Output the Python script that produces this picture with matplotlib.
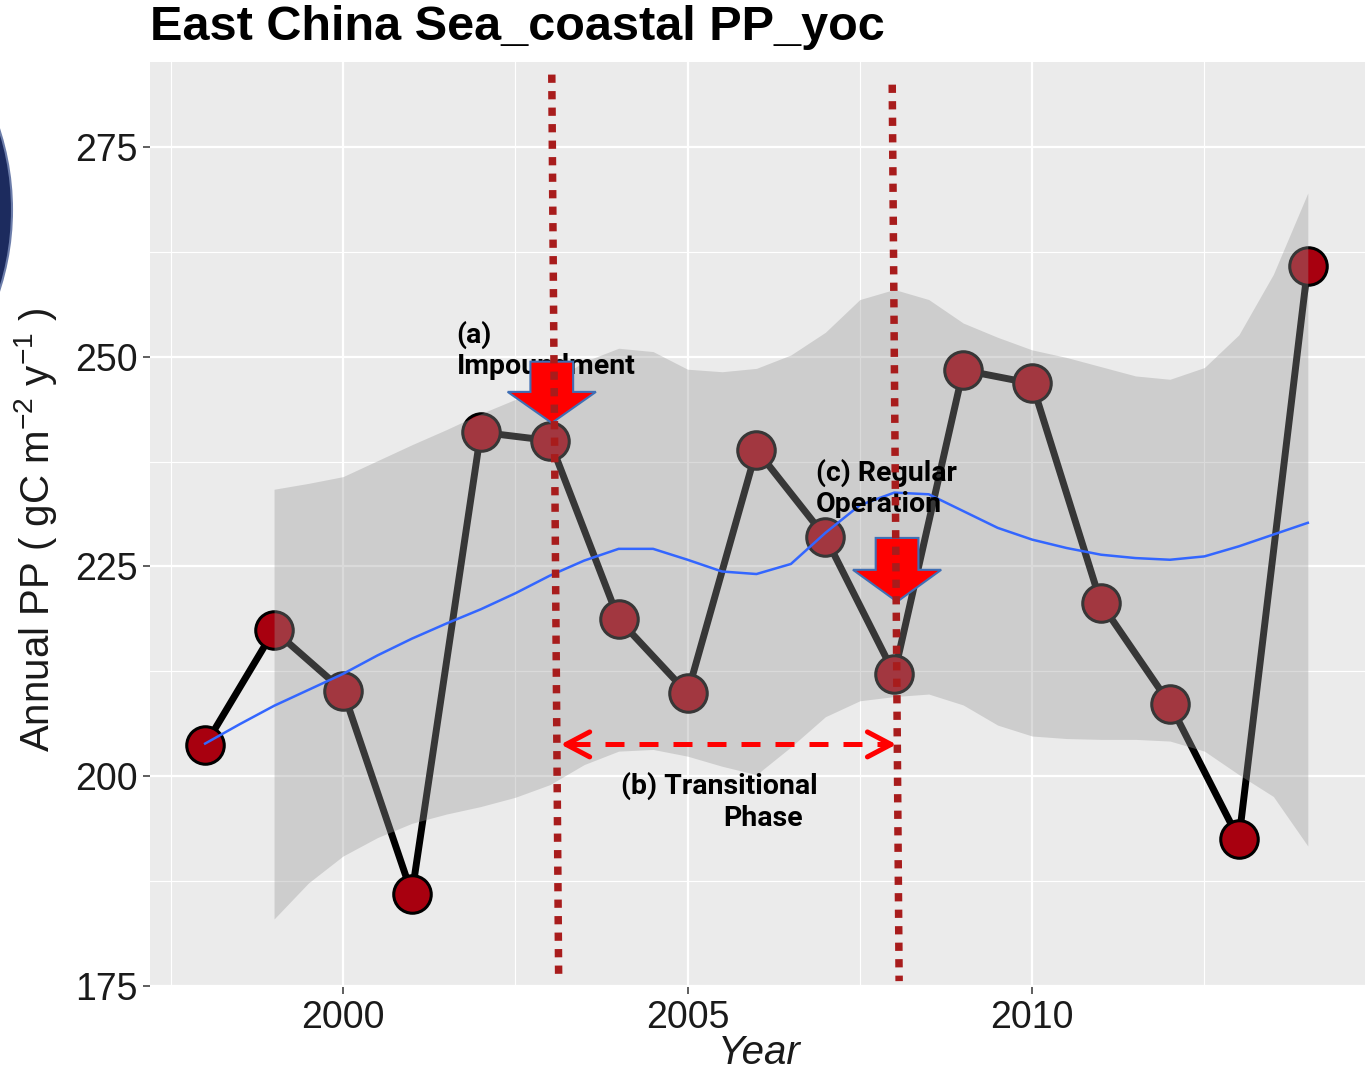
import numpy as np
import matplotlib.pyplot as plt
from matplotlib.patches import Polygon, Ellipse

plt.rcParams['font.family'] = ['Liberation Sans', 'DejaVu Sans']
plt.rcParams['mathtext.fontset'] = 'custom'
plt.rcParams['mathtext.rm'] = 'Liberation Sans'
plt.rcParams['mathtext.it'] = 'Liberation Sans:italic'

# annual primary production, East China Sea coastal box
years = [1998, 1999, 2000, 2001, 2002, 2003, 2004, 2005, 2006,
         2007, 2008, 2009, 2010, 2011, 2012, 2013, 2014]
pp = [203.7, 217.4, 210.2, 186.0, 241.0, 240.0, 218.7, 209.9, 238.9,
      228.5, 212.2, 248.4, 246.8, 220.6, 208.6, 192.5, 260.8]

# loess trend, read every half year
fit_years = np.arange(1998, 2014.01, 0.5)
fit = [203.9, 206.2, 208.4, 210.3, 212.2, 214.4, 216.4, 218.2, 219.9,
       221.8, 223.9, 225.7, 227.1, 227.1, 225.8, 224.4, 224.1, 225.3,
       229.0, 232.3, 233.8, 233.6, 231.6, 229.6, 228.2, 227.2, 226.4,
       226.0, 225.8, 226.2, 227.4, 228.8, 230.2]

# confidence band of the trend
band_years = np.arange(1999, 2014.01, 0.5)
band_lo = [183.0, 187.3, 190.5, 192.7, 194.4, 195.5, 196.4, 197.5, 199.0,
           201.4, 203.0, 203.2, 202.4, 201.2, 200.2, 203.5, 207.1, 209.0,
           209.5, 209.8, 208.5, 206.1, 204.8, 204.5, 204.4, 204.4, 204.2,
           203.0, 200.2, 197.6, 191.7]
band_hi = [234.2, 234.9, 235.7, 237.6, 239.5, 241.3, 243.2, 244.9, 246.8,
           249.4, 251.0, 250.6, 248.5, 248.2, 248.6, 250.2, 252.9, 256.8,
           258.0, 256.8, 254.0, 252.3, 250.8, 249.9, 248.8, 247.7, 247.3,
           248.7, 252.6, 259.8, 269.5]

# dam phases
impound_year = 2003
regular_year = 2008
phase_labels = [
    (2001.65, 252.6, '(a)'),
    (2001.65, 248.8, 'Impoundment'),
    (2006.86, 236.2, '(c) Regular'),
    (2006.86, 232.4, 'Operation'),
    (2004.04, 198.8, '(b) Transitional'),
    (2005.52, 195.0, 'Phase'),
]

W, H = 1367, 1074
fig = plt.figure(figsize=(W / 100, H / 100), dpi=100)
ax = fig.add_axes([150 / W, 87 / H, 1215 / W, 925 / H])

ax.set_facecolor('#EBEBEB')
for s in ax.spines.values():
    s.set_visible(False)

ax.set_xlim(1997.2, 2014.83)
ax.set_ylim(174.9, 285.1)
ax.set_xticks([2000, 2005, 2010])
ax.set_yticks([175, 200, 225, 250, 275])
ax.set_xticks([1997.5, 2002.5, 2007.5, 2012.5], minor=True)
ax.set_yticks([187.5, 212.5, 237.5, 262.5], minor=True)
ax.grid(which='major', color='white', lw=1.6)
ax.grid(which='minor', color='white', lw=0.8)
ax.set_axisbelow(True)
ax.tick_params(which='major', length=5, width=1.1, color='#333333',
               labelsize=27, labelcolor='#1A1A1A', pad=4)
ax.tick_params(which='minor', length=0)

# series, band on top, then the trend line
ax.plot(years, pp, color='black', lw=5, zorder=2, solid_capstyle='round')
ax.plot(years, pp, 'o', ms=27, mfc='#A8000F', mec='black', mew=2.2, zorder=3)
ax.fill_between(band_years, band_lo, band_hi, color='#999999', alpha=0.36,
                lw=0, zorder=4)
ax.plot(fit_years, fit, color='#3366FF', lw=1.8, zorder=5)

# phase annotations
ann_font = dict(family=['Roboto', 'DejaVu Sans'], weight='bold',
                size=20.5, color='black')
for x, y, s in phase_labels:
    ax.text(x, y, s, ha='left', va='center', zorder=6, **ann_font)


def block_arrow(x_tip, y_tip, y_neck, y_top, half_shaft=0.31, half_head=0.64):
    pts = [(x_tip, y_tip), (x_tip - half_head, y_neck),
           (x_tip - half_shaft, y_neck), (x_tip - half_shaft, y_top),
           (x_tip + half_shaft, y_top), (x_tip + half_shaft, y_neck),
           (x_tip + half_head, y_neck)]
    ax.add_patch(Polygon(pts, closed=True, fc='#FF0000', ec='#3F6FB5',
                         lw=1.5, zorder=7))


block_arrow(impound_year + 0.03, 242.1, 245.8, 249.4)
block_arrow(regular_year + 0.04, 220.8, 224.6, 228.4)

# vertical dotted markers at the phase boundaries, drawn slightly slanted
for x_top, x_bot, top in [(impound_year + 0.03, impound_year + 0.13, 283.6),
                          (regular_year - 0.03, regular_year + 0.07, 282.4)]:
    ax.plot([x_top, x_bot], [top, 175.6], color='#A81C1C', lw=5.4,
            linestyle=(0, (1.1, 1.1)), zorder=8)

# transitional phase span
span_y = 203.8
x0, x1 = impound_year + 0.16, regular_year + 0.03
ax.plot([x0 + 0.15, x1 - 0.15], [span_y, span_y], color='#FF0000', lw=3.6,
        dashes=(3.8, 3.0), zorder=7)
for tip, tail in [(x0, x0 + 0.2), (x1, x1 - 0.2)]:
    ax.annotate('', xy=(tip, span_y), xytext=(tail, span_y),
                arrowprops=dict(arrowstyle='->,head_length=0.85,head_width=0.45',
                                color='#FF0000', lw=3.6, mutation_scale=20,
                                shrinkA=0, shrinkB=0),
                zorder=7)

fig.text(150 / W, 1 - 27 / H, 'East China Sea_coastal PP_yoc',
         fontsize=35, fontweight='bold', ha='left', va='center')
fig.text(36 / W, 1 - 752 / H, r'Annual PP ( gC m$^{-2}$ y$^{-1}$ )',
         rotation=90, ha='center', va='bottom', fontsize=29, color='#1A1A1A')
fig.text(759 / W, 2 / H, 'Year', style='italic', fontsize=29,
         ha='center', va='bottom', color='#1A1A1A')

# edge of the slide badge at the left border
fig.add_artist(Ellipse((-250 / W, 1 - 210 / H), 2 * 262 / W, 2 * 262 / H,
                       transform=fig.transFigure, fc='#1C2B5E', ec='#6C7DAA',
                       lw=1.5))

fig.savefig('out.png', dpi=100)
